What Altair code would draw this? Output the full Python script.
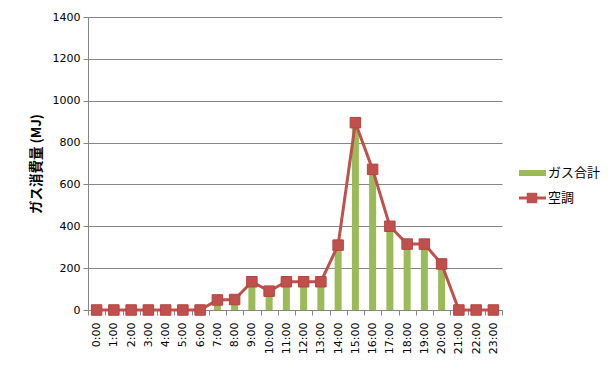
import altair as alt
import pandas as pd

hours = [f"{h}:00" for h in range(24)]
gas_total = [0, 0, 0, 0, 0, 0, 0, 48, 50, 135, 90, 135, 135, 135, 310, 895, 672, 400, 315, 315, 220, 0, 0, 0]
aircon = [0, 0, 0, 0, 0, 0, 0, 48, 50, 135, 90, 135, 135, 135, 310, 895, 672, 400, 315, 315, 220, 0, 0, 0]
legend_labels = ["ガス合計", "空調"]
y_ticks = [0, 200, 400, 600, 800, 1000, 1200, 1400]

GREEN = "#9BBB59"
RED = "#C0504D"
GRID = "#868686"
JP = "Noto Sans CJK JP"
NUM = "DejaVu Sans"

df = pd.DataFrame({"hour": hours, "gas": gas_total, "ac": aircon})

x_enc = alt.X(
    "hour:N",
    sort=hours,
    title=None,
    scale=alt.Scale(paddingInner=0, paddingOuter=0),
    axis=alt.Axis(
        labelAngle=-90,
        labelFont=NUM,
        labelFontSize=11,
        labelColor="#000000",
        tickBand="extent",
        tickColor=GRID,
        tickSize=5,
        domainColor=GRID,
        domainWidth=1,
        labelPadding=7,
        grid=False,
    ),
)

y_scale = alt.Scale(domain=[0, 1400], nice=False)
y_axis = alt.Axis(
    values=y_ticks,
    format="d",
    title="ガス消費量 (MJ)",
    titleFont=JP,
    titleFontSize=13.5,
    titleFontWeight="bold",
    titleColor="#000000",
    titlePadding=9,
    labelFont=NUM,
    labelFontSize=11,
    labelColor="#000000",
    tickColor=GRID,
    tickSize=5,
    domainColor=GRID,
    gridColor=GRID,
    gridWidth=1,
    labelPadding=3,
)

bars = alt.Chart(df).mark_bar(color=GREEN, size=7).encode(
    x=x_enc,
    y=alt.Y("gas:Q", scale=y_scale, axis=y_axis),
)

line = alt.Chart(df).mark_line(color=RED, strokeWidth=3).encode(
    x=alt.X("hour:N", sort=hours),
    y=alt.Y("ac:Q", scale=y_scale),
)

pts = alt.Chart(df).mark_point(
    shape="square", filled=True, size=110, color=RED, opacity=1,
    stroke="#B5443F", strokeWidth=1,
).encode(
    x=alt.X("hour:N", sort=hours),
    y=alt.Y("ac:Q", scale=y_scale),
)

leg_df = pd.DataFrame({"label": legend_labels})

leg_green = alt.Chart(leg_df).transform_filter(alt.datum.label == legend_labels[0]).mark_rule(
    color=GREEN, strokeWidth=6
).encode(x=alt.value(431), x2=alt.value(458), y=alt.value(156))

leg_red = alt.Chart(leg_df).transform_filter(alt.datum.label == legend_labels[1]).mark_rule(
    color=RED, strokeWidth=3
).encode(x=alt.value(431), x2=alt.value(458), y=alt.value(181))

leg_sq = alt.Chart(leg_df).transform_filter(alt.datum.label == legend_labels[1]).mark_point(
    shape="square", filled=True, size=110, color=RED, opacity=1
).encode(x=alt.value(444), y=alt.value(181))

leg_t1 = alt.Chart(leg_df).transform_filter(alt.datum.label == legend_labels[0]).mark_text(
    align="left", baseline="middle", font=JP, fontSize=13, color="#000000"
).encode(x=alt.value(460), y=alt.value(156), text="label:N")

leg_t2 = alt.Chart(leg_df).transform_filter(alt.datum.label == legend_labels[1]).mark_text(
    align="left", baseline="middle", font=JP, fontSize=13, color="#000000"
).encode(x=alt.value(460), y=alt.value(181), text="label:N")

chart = alt.layer(bars, line, pts, leg_green, leg_red, leg_sq, leg_t1, leg_t2).properties(
    width=414,
    height=293,
    padding={"left": 80, "top": 9, "right": 104, "bottom": 52},
    autosize=alt.AutoSizeParams(type="none"),
    background="#FFFFFF",
).configure_view(stroke=None)

chart.save("out.html", embed_options={"renderer": "svg", "actions": False})
